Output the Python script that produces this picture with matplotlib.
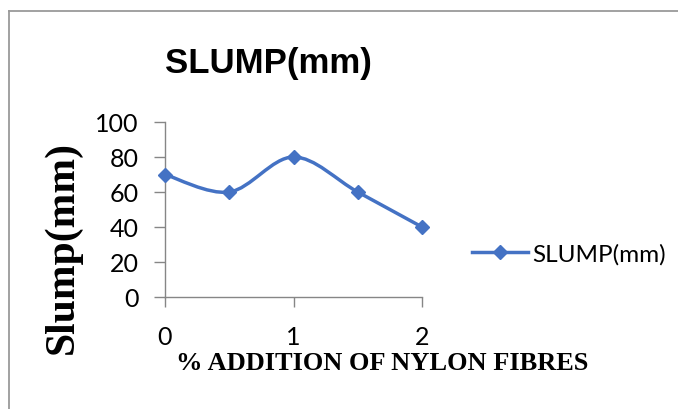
import matplotlib
matplotlib.use("Agg")
import matplotlib.pyplot as plt
from matplotlib.lines import Line2D
from matplotlib.path import Path
from matplotlib.patches import PathPatch

# ── dati ──────────────────────────────────────────────────────────────────────
nylon_pct = [0, 0.5, 1, 1.5, 2]
slump_mm  = [70, 60, 80, 60, 40]

x_ticks = [0, 1, 2]
y_ticks = [0, 20, 40, 60, 80, 100]

BLUE  = "#4472C4"
GREY  = "#868686"
SANS  = ["Liberation Sans", "DejaVu Sans"]
SANS2 = ["Lato", "Liberation Sans", "DejaVu Sans"]
SERIF = ["Liberation Serif", "DejaVu Serif"]


def smooth_path(xs, ys):
    # curva smussata tipo Excel (Catmull-Rom -> Bezier cubica)
    pts = list(zip(xs, ys))
    ext = [pts[0]] + pts + [pts[-1]]
    verts = [pts[0]]
    codes = [Path.MOVETO]
    for i in range(1, len(ext) - 2):
        p0, p1, p2, p3 = ext[i - 1], ext[i], ext[i + 1], ext[i + 2]
        c1 = (p1[0] + (p2[0] - p0[0]) / 6, p1[1] + (p2[1] - p0[1]) / 6)
        c2 = (p2[0] - (p3[0] - p1[0]) / 6, p2[1] - (p3[1] - p1[1]) / 6)
        verts += [c1, c2, p2]
        codes += [Path.CURVE4] * 3
    return Path(verts, codes)


fig = plt.figure(figsize=(6.78, 4.10), dpi=100)
ax = fig.add_axes([165 / 678, 1 - 298 / 410, 257 / 678, 175 / 410])

ax.add_patch(PathPatch(smooth_path(nylon_pct, slump_mm), fill=False,
                       edgecolor=BLUE, lw=2.5, capstyle="round", joinstyle="round"))
ax.plot(nylon_pct, slump_mm, linestyle="none", marker="D", ms=7.5,
        color=BLUE, zorder=3, clip_on=False)

ax.set_xlim(0, 2)
ax.set_ylim(0, 100)
ax.set_xticks(x_ticks)
ax.set_yticks(y_ticks)
ax.set_xticklabels([str(v) for v in x_ticks], fontfamily=SANS2, fontsize=18)
ax.set_yticklabels([str(v) for v in y_ticks], fontfamily=SANS2, fontsize=18)
ax.tick_params(axis="x", length=7, width=1, color=GREY, pad=13)
ax.tick_params(axis="y", length=8, width=1, color=GREY, pad=11)
for s in ("top", "right"):
    ax.spines[s].set_visible(False)
for s in ("left", "bottom"):
    ax.spines[s].set_color(GREY)
    ax.spines[s].set_linewidth(1)

# ── testi ─────────────────────────────────────────────────────────────────────
fig.text(268 / 678, 1 - 63 / 410, "SLUMP(mm)", ha="center", va="center",
         fontsize=25, fontweight="bold", fontfamily=SANS)
fig.text(63 / 678, 1 - 248 / 410, "Slump(mm)", ha="center", va="center",
         rotation=90, fontsize=30, fontweight="bold", fontfamily=SERIF)
fig.text(382 / 678, 1 - 364 / 410, "% ADDITION OF NYLON FIBRES", ha="center",
         va="center", fontsize=19, fontweight="bold", fontfamily=SERIF)

# ── legenda ───────────────────────────────────────────────────────────────────
handle = Line2D([], [], color=BLUE, lw=2.5, marker="D", ms=7.5)
fig.legend([handle], ["SLUMP(mm)"], loc="center left",
           bbox_to_anchor=(462 / 678, 1 - 255 / 410), frameon=False,
           prop={"family": SANS2, "size": 17.5}, handlelength=2.3,
           handletextpad=0.2, borderaxespad=0)

# ── bordo del riquadro (solo lati sinistro e superiore visibili) ─────────────
fig.add_artist(Line2D([9 / 678, 9 / 678], [0, 1 - 11.5 / 410],
                      color="#9a9a9a", lw=1.3))
fig.add_artist(Line2D([9 / 678, 1], [1 - 11.5 / 410, 1 - 11.5 / 410],
                      color="#9a9a9a", lw=1.3))

fig.savefig("out.png", dpi=100)
